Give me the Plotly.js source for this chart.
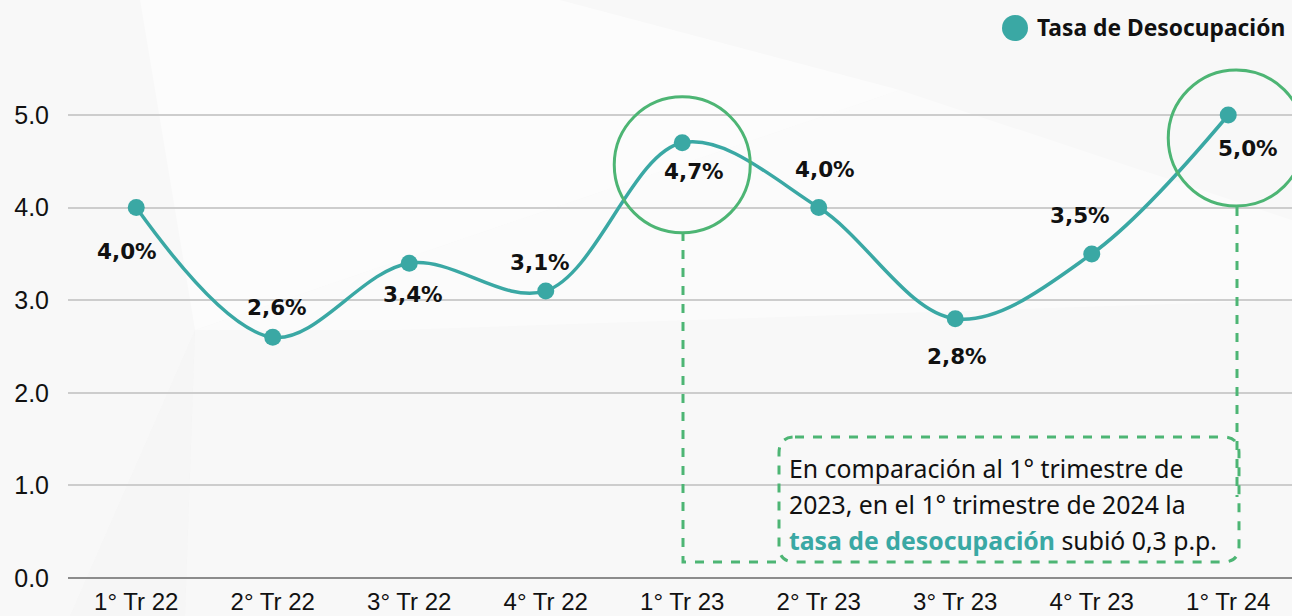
<!DOCTYPE html>
<html><head><meta charset="utf-8">
<script src="https://cdn.plot.ly/plotly-3.0.1.min.js"></script>
<style>html,body{margin:0;padding:0;background:#f8f8f8}</style>
</head><body>
<div id="chart" style="width:1292px;height:616px"></div>
<script>
const categories = ["1° Tr 22","2° Tr 22","3° Tr 22","4° Tr 22","1° Tr 23","2° Tr 23","3° Tr 23","4° Tr 23","1° Tr 24"];
const tasaDesocupacion = [4.0, 2.6, 3.4, 3.1, 4.7, 4.0, 2.8, 3.5, 5.0];
const valueLabels = ["4,0%","2,6%","3,4%","3,1%","4,7%","4,0%","2,8%","3,5%","5,0%"];
const yTickVals = [0, 1, 2, 3, 4, 5];
const yTickText = ["0.0","1.0","2.0","3.0","4.0","5.0"];
const seriesName = "Tasa de Desocupación";
const noteLines = ["En comparación al 1° trimestre de", "2023, en el 1° trimestre de 2024 la", "<b><span style='color:#3aa8a4'>tasa de desocupación</span></b> subió 0,3 p.p."];

const TEAL = '#3aa8a4', GREEN = '#4db574';
const W = 1292, H = 616, ML = 68, MR = 0, MT = 0, MB = 38;
const PW = W - ML - MR, PH = H - MT - MB;
// pixel -> paper helpers for decorative shapes
const px = x => (x - ML) / PW;
const py = y => (H - MB - y) / PH;

// label offsets (pixels) relative to each point
const labelShift = [[-9,-44],[4,30],[4,-31],[-6,28],[12,-29],[6,38],[2,-38],[-12,38],[20,-33]];

const annotations = categories.map((c, i) => ({
  x: i, y: tasaDesocupacion[i], xref: 'x', yref: 'y',
  text: '<b>' + valueLabels[i] + '</b>', showarrow: false,
  xshift: labelShift[i][0], yshift: labelShift[i][1],
  font: {family: 'DejaVu Sans, Verdana, sans-serif', size: 21.5, color: '#111'}
}));
noteLines.forEach((t, k) => annotations.push({
  xref: 'paper', yref: 'paper', x: px(787), y: py(468 + k * 36),
  xanchor: 'left', yanchor: 'middle', text: t, showarrow: false,
  font: {family: 'Noto Sans, Open Sans, sans-serif', size: 24.8, color: '#111'}
}));
annotations.push({
  xref: 'paper', yref: 'paper', x: px(1035), y: py(27), xanchor: 'left', yanchor: 'middle',
  text: '<b>' + seriesName + '</b>', showarrow: false,
  font: {family: 'Noto Sans, Open Sans, sans-serif', size: 22.8, color: '#111'}
});

function roundRect(x0, y0, x1, y1, r) {
  const X = px, Y = py;
  return `M ${X(x0+r)},${Y(y0)} L ${X(x1-r)},${Y(y0)} Q ${X(x1)},${Y(y0)} ${X(x1)},${Y(y0+r)} ` +
         `L ${X(x1)},${Y(y1-r)} Q ${X(x1)},${Y(y1)} ${X(x1-r)},${Y(y1)} L ${X(x0+r)},${Y(y1)} ` +
         `Q ${X(x0)},${Y(y1)} ${X(x0)},${Y(y1-r)} L ${X(x0)},${Y(y0+r)} Q ${X(x0)},${Y(y0)} ${X(x0+r)},${Y(y0)} Z`;
}
const dash = {color: GREEN, width: 3, dash: 'dash'};
const shapes = [
  // faint background facets
  {type:'path', xref:'paper', yref:'paper', layer:'below', line:{width:0}, fillcolor:'rgba(255,255,255,0.55)',
   path:`M ${px(140)},${py(0)} L ${px(560)},${py(0)} L ${px(900)},${py(90)} L ${px(195)},${py(330)} Z`},
  {type:'path', xref:'paper', yref:'paper', layer:'below', line:{width:0}, fillcolor:'rgba(255,255,255,0.4)',
   path:`M ${px(195)},${py(330)} L ${px(900)},${py(90)} L ${px(1292)},${py(220)} L ${px(1292)},${py(300)} L ${px(400)},${py(330)} Z`},
  {type:'path', xref:'paper', yref:'paper', layer:'below', line:{width:0}, fillcolor:'rgba(240,240,240,0.25)',
   path:`M ${px(195)},${py(330)} L ${px(185)},${py(616)} L ${px(70)},${py(616)} Z`},
  // circles around highlighted points
  {type:'circle', xref:'x', yref:'y', xsizemode:'pixel', ysizemode:'pixel', xanchor:4, yanchor:tasaDesocupacion[4],
   x0:-68, x1:68, y0:-90, y1:46, line:{color:GREEN, width:3}},
  {type:'circle', xref:'x', yref:'y', xsizemode:'pixel', ysizemode:'pixel', xanchor:8, yanchor:tasaDesocupacion[8],
   x0:-60, x1:76, y0:-91, y1:45, line:{color:GREEN, width:3}},
  // connectors
  {type:'path', xref:'paper', yref:'paper', line:dash,
   path:`M ${px(683)},${py(232)} L ${px(683)},${py(562)} L ${px(779)},${py(562)}`},
  {type:'line', xref:'paper', yref:'paper', line:dash, x0:px(1237), x1:px(1237), y0:py(207), y1:py(497)},
  {type:'path', xref:'paper', yref:'paper', line:dash, path: roundRect(779, 437, 1239, 562, 16)},
  // legend marker
  {type:'circle', xref:'paper', yref:'paper', x0:px(1002), x1:px(1028), y0:py(41), y1:py(15),
   line:{width:0}, fillcolor:TEAL}
];

const trace = {
  x: categories.map((c, i) => i), y: tasaDesocupacion, type: 'scatter', mode: 'lines+markers',
  name: seriesName, line: {color: TEAL, width: 3.5, shape: 'spline', smoothing: 1},
  marker: {color: TEAL, size: 17}, showlegend: false, hoverinfo: 'none'
};

const layout = {
  width: W, height: H, margin: {l: ML, r: MR, t: MT, b: MB},
  paper_bgcolor: '#f8f8f8', plot_bgcolor: 'rgba(0,0,0,0)',
  xaxis: {range: [-0.5, -0.5 + PW / 136.5], tickvals: categories.map((c, i) => i), ticktext: categories,
          showgrid: false, zeroline: false, showline: false, ticks: '', fixedrange: true,
          ticklabelstandoff: 7,
          tickfont: {family: 'Liberation Sans, Arial, sans-serif', size: 24, color: '#111'}},
  yaxis: {range: [0, PH / 92.6], tickvals: yTickVals, ticktext: yTickText,
          showgrid: true, gridcolor: '#cdcdcd', gridwidth: 2, zeroline: true, zerolinecolor: '#8c8c8c',
          zerolinewidth: 2, showline: false, ticks: '', ticklabelstandoff: 18,
          tickfont: {family: 'Liberation Sans, Arial, sans-serif', size: 25, color: '#111'}},
  annotations: annotations, shapes: shapes, showlegend: false
};
Plotly.newPlot('chart', [trace], layout, {displayModeBar: false, staticPlot: true});
</script>
</body></html>
